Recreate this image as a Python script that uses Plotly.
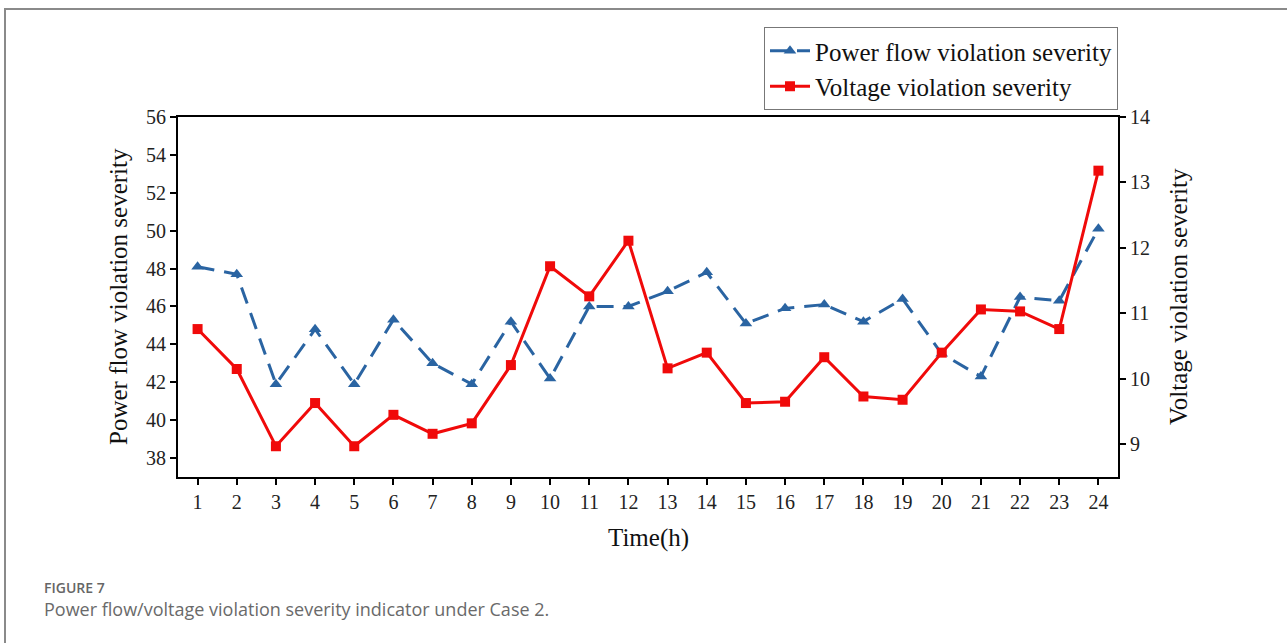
import plotly.graph_objects as go

hours = list(range(1, 25))
power_flow = [48.1, 47.7, 41.9, 44.8, 41.9, 45.3, 43.0, 41.9, 45.2, 42.2, 46.0, 46.0,
              46.8, 47.8, 45.1, 45.9, 46.1, 45.2, 46.4, 43.5, 42.3, 46.5, 46.3, 50.1]
voltage = [10.76, 10.15, 8.97, 9.63, 8.97, 9.45, 9.16, 9.32, 10.21, 11.72, 11.26, 12.11,
           10.16, 10.40, 9.63, 9.65, 10.33, 9.73, 9.68, 10.40, 11.06, 11.03, 10.76, 13.18]
left_ticks = list(range(38, 57, 2))
right_ticks = list(range(9, 15))

W, H = 1287, 643
L, R, T, B = 178, 1118, 117, 477

def px(x):
    return (x - L) / (R - L)

def py(y):
    return (B - y) / (B - T)

serif = "Liberation Serif"
blue = "#2a64a2"
red = "#f00a0a"

fig = go.Figure()
fig.add_trace(go.Scatter(
    x=hours, y=power_flow, name="Power flow violation severity",
    mode="lines+markers",
    line=dict(color=blue, width=3, dash="17px,10px"),
    marker=dict(symbol="triangle-up", size=11, color=blue),
    yaxis="y",
))
fig.add_trace(go.Scatter(
    x=hours, y=voltage, name="Voltage violation severity",
    mode="lines+markers",
    line=dict(color=red, width=3),
    marker=dict(symbol="square", size=10, color=red),
    yaxis="y2",
))

axis_common = dict(
    showline=True, linecolor="black", linewidth=2, ticks="outside",
    ticklen=6, tickwidth=1.5, tickcolor="black", showgrid=False, zeroline=False,
    tickfont=dict(family=serif, size=20, color="#222"),
)

fig.update_layout(
    width=W, height=H,
    margin=dict(l=L, r=W - R, t=T, b=H - B, pad=0),
    paper_bgcolor="white", plot_bgcolor="white",
    showlegend=True,
    legend=dict(
        x=1.0, xanchor="right", y=py(110), yanchor="bottom",
        bordercolor="#777", borderwidth=1, bgcolor="white",
        font=dict(family=serif, size=25, color="#111"),
        tracegroupgap=0, itemwidth=40,
    ),
    xaxis=dict(range=[0.5, 24.5], tickvals=hours, mirror=True, **axis_common),
    yaxis=dict(range=[37, 56], tickvals=left_ticks, **axis_common),
    yaxis2=dict(range=[8.5, 14], tickvals=right_ticks, overlaying="y", side="right",
                **axis_common),
)

annotations = [
    dict(text="Power flow violation severity", x=px(118), y=py(297), textangle=-90,
         font=dict(family=serif, size=25, color="#111")),
    dict(text="Voltage violation severity", x=px(1178), y=py(297), textangle=-90,
         font=dict(family=serif, size=25, color="#111")),
    dict(text="Time(h)", x=px(648), y=py(538),
         font=dict(family=serif, size=25, color="#111")),
    dict(text="FIGURE 7", x=px(42), y=py(587), xanchor="left",
         font=dict(family="Open Sans", size=14, color="#666", weight=600)),
    dict(text="Power flow/voltage violation severity indicator under Case 2.",
         x=px(42), y=py(609), xanchor="left",
         font=dict(family="Open Sans", size=18, color="#6a6a6a")),
]
for a in annotations:
    a.update(xref="paper", yref="paper", showarrow=False)
    a.setdefault("xanchor", "center")
    a.setdefault("yanchor", "middle")
fig.update_layout(annotations=annotations)

fig.add_shape(type="line", xref="paper", yref="paper",
              x0=px(4), x1=px(1290), y0=py(9), y1=py(9),
              line=dict(color="#8a8a8a", width=2))
fig.add_shape(type="line", xref="paper", yref="paper",
              x0=px(5), x1=px(5), y0=py(9), y1=py(650),
              line=dict(color="#8a8a8a", width=2))

fig.write_html("out.html")
